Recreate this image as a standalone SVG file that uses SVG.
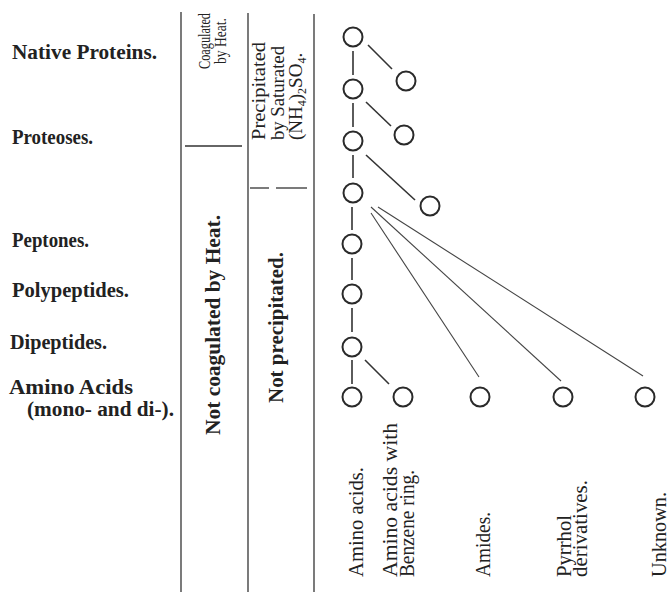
<svg xmlns="http://www.w3.org/2000/svg" width="669" height="592" viewBox="0 0 669 592">
<style>
.lbl{font-family:"Liberation Serif","Times New Roman",serif;font-size:20px;font-weight:bold;fill:#222}
.col{font-family:"Liberation Serif","Times New Roman",serif;font-size:17px;fill:#222}
.col2{font-family:"Liberation Serif","Times New Roman",serif;font-size:19px;fill:#222}
.colb{font-family:"Liberation Serif","Times New Roman",serif;font-size:20px;font-weight:bold;fill:#222}
.bot{font-family:"Liberation Serif","Times New Roman",serif;font-size:20px;fill:#222}
.rule{stroke:#333;stroke-width:1.3;fill:none}
.node{fill:none;stroke:#2a2a2a;stroke-width:2}
.edge{stroke:#333;stroke-width:1.6;fill:none}
.thin{stroke:#444;stroke-width:1.1;fill:none}
</style>
<rect width="669" height="592" fill="#fff"/>
<g id="table">
<line class="rule" x1="181" y1="12" x2="181" y2="592"/>
<line class="rule" x1="248" y1="13" x2="248" y2="592"/>
<line class="rule" x1="314" y1="14" x2="314" y2="592" stroke="#666"/>
<line class="rule" x1="185" y1="146" x2="242" y2="146"/>
<line class="rule" x1="250" y1="188" x2="269" y2="188"/>
<line class="rule" x1="276" y1="188" x2="307" y2="188"/>
</g>
<g id="left-labels">
<text class="lbl" x="12" y="59" textLength="145" lengthAdjust="spacingAndGlyphs">Native Proteins.</text>
<text class="lbl" x="12" y="144" textLength="81" lengthAdjust="spacingAndGlyphs">Proteoses.</text>
<text class="lbl" x="12" y="247" textLength="77" lengthAdjust="spacingAndGlyphs">Peptones.</text>
<text class="lbl" x="12" y="297" textLength="117" lengthAdjust="spacingAndGlyphs">Polypeptides.</text>
<text class="lbl" x="10" y="349" textLength="97" lengthAdjust="spacingAndGlyphs">Dipeptides.</text>
<text class="lbl" x="9" y="394" textLength="124" lengthAdjust="spacingAndGlyphs">Amino Acids</text>
<text class="lbl" x="27" y="416" textLength="147" lengthAdjust="spacingAndGlyphs">(mono- and di-).</text>
</g>
<g id="col-heat">
<text class="col" transform="translate(210,41) rotate(-90)" text-anchor="middle" textLength="56" lengthAdjust="spacingAndGlyphs">Coagulated</text>
<text class="col" transform="translate(226,41) rotate(-90)" text-anchor="middle" textLength="46" lengthAdjust="spacingAndGlyphs">by Heat.</text>
<text class="colb" transform="translate(220,435) rotate(-90)" textLength="220" lengthAdjust="spacingAndGlyphs">Not coagulated by Heat.</text>
</g>
<g id="col-salt">
<text class="col2" transform="translate(265,140) rotate(-90)" textLength="98" lengthAdjust="spacingAndGlyphs">Precipitated</text>
<text class="col2" transform="translate(284,140) rotate(-90)" textLength="94" lengthAdjust="spacingAndGlyphs">by Saturated</text>
<text class="col2" transform="translate(302,140) rotate(-90)">(NH<tspan font-size="12" dy="4">4</tspan><tspan dy="-4">)</tspan><tspan font-size="12" dy="4">2</tspan><tspan dy="-4">SO</tspan><tspan font-size="12" dy="4">4</tspan><tspan dy="-4">.</tspan></text>
<text class="colb" transform="translate(283,403) rotate(-90)" textLength="151" lengthAdjust="spacingAndGlyphs">Not precipitated.</text>
</g>
<g id="connectors">
<line class="edge" x1="353" y1="51" x2="353" y2="75"/>
<line class="edge" x1="353" y1="103" x2="353" y2="127"/>
<line class="edge" x1="353" y1="155" x2="353" y2="178"/>
<line class="edge" x1="352" y1="207" x2="352" y2="230" stroke-width="2.6"/>
<line class="edge" x1="352" y1="258" x2="352" y2="280"/>
<line class="edge" x1="352" y1="308" x2="352" y2="332"/>
<line class="edge" x1="352" y1="360" x2="352" y2="384"/>
<line class="edge" x1="368" y1="45" x2="392" y2="69"/>
<line class="edge" x1="366" y1="102" x2="391" y2="126"/>
<line class="edge" x1="366" y1="155" x2="415" y2="200"/>
<line class="edge" x1="365" y1="360" x2="389" y2="384"/>
<line class="thin" x1="371" y1="213" x2="479" y2="377"/>
<line class="thin" x1="371" y1="207" x2="561" y2="381"/>
<line class="thin" x1="378" y1="207" x2="643" y2="376"/>
</g>
<g id="n1"><circle class="node" cx="353" cy="37" r="9.5"/></g>
<g id="n1b"><circle class="node" cx="406" cy="81" r="9.5"/></g>
<g id="n2"><circle class="node" cx="353" cy="89" r="9.5"/></g>
<g id="n2b"><circle class="node" cx="404" cy="135" r="9.5"/></g>
<g id="n3"><circle class="node" cx="353" cy="141" r="9.5"/></g>
<g id="n3b"><circle class="node" cx="430" cy="206" r="9.5"/></g>
<g id="n4"><circle class="node" cx="353" cy="193" r="9.5"/></g>
<g id="n5"><circle class="node" cx="352" cy="244" r="9.5"/></g>
<g id="n6"><circle class="node" cx="352" cy="294" r="9.5"/></g>
<g id="n7"><circle class="node" cx="352" cy="347" r="9.5"/></g>
<g id="n-amino"><circle class="node" cx="352" cy="397" r="9.5"/></g>
<g id="n-benzene"><circle class="node" cx="403" cy="397" r="9.5"/></g>
<g id="n-amides"><circle class="node" cx="480" cy="397" r="9.5"/></g>
<g id="n-pyrrhol"><circle class="node" cx="563" cy="397" r="9.5"/></g>
<g id="n-unknown"><circle class="node" cx="645" cy="397" r="9.5"/></g>
<g id="bottom-labels">
<text class="bot" transform="translate(363,577) rotate(-90)" textLength="110" lengthAdjust="spacingAndGlyphs">Amino acids.</text>
<text class="bot" transform="translate(397,577) rotate(-90)" textLength="154" lengthAdjust="spacingAndGlyphs">Amino acids with</text>
<text class="bot" transform="translate(414,577) rotate(-90)" textLength="107" lengthAdjust="spacingAndGlyphs">Benzene ring.</text>
<text class="bot" transform="translate(490,577) rotate(-90)" textLength="65" lengthAdjust="spacingAndGlyphs">Amides.</text>
<text class="bot" transform="translate(571,577) rotate(-90)" textLength="62" lengthAdjust="spacingAndGlyphs">Pyrrhol</text>
<text class="bot" transform="translate(587,577) rotate(-90)" textLength="97" lengthAdjust="spacingAndGlyphs">derivatives.</text>
<text class="bot" transform="translate(666,577) rotate(-90)" textLength="85" lengthAdjust="spacingAndGlyphs">Unknown.</text>
</g>
</svg>
